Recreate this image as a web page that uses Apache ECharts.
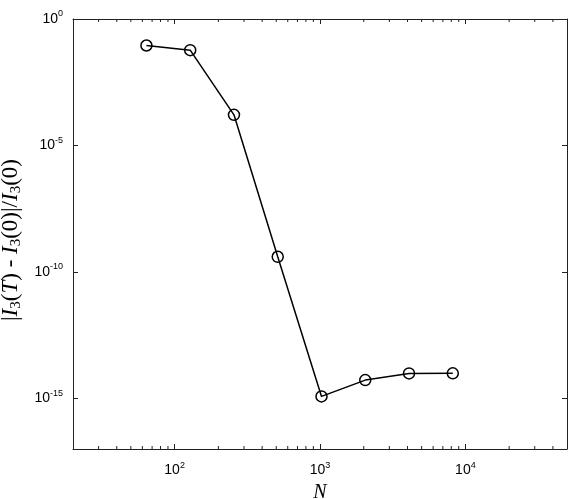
<!DOCTYPE html>
<html>
<head>
<meta charset="utf-8">
<script src="https://cdn.jsdelivr.net/npm/echarts@6/dist/echarts.min.js"></script>
<style>
  html, body { margin: 0; padding: 0; background: #fff; }
  #chart { width: 573px; height: 499px; }
</style>
</head>
<body>
<div id="chart"></div>
<script>
// data
const nValues = [64, 128, 256, 512, 1024, 2048, 4096, 8192];
const errValues = [0.0897, 0.0585, 1.63e-4, 3.98e-10, 1.2e-15, 5.3e-15, 9.7e-15, 9.8e-15];

// axis ranges / ticks
const xMin = 20;
const xMax = 50000;
const yMin = 1e-17;
const yMax = 1;
const xTickExps = [2, 3, 4];
const yTickExps = [0, -5, -10, -15];
const xMinorTicks = [30, 40, 50, 60, 70, 80, 90,
  200, 300, 400, 500, 600, 700, 800, 900,
  2000, 3000, 4000, 5000, 6000, 7000, 8000, 9000,
  20000, 30000, 40000];

const axisColor = '#222';
const labelFont = '"Liberation Sans", Arial, sans-serif';
const serifFont = '"Liberation Serif", "Times New Roman", serif';

const powRich = {
  b: { fontFamily: labelFont, fontSize: 14, color: '#000' },
  s: { fontFamily: labelFont, fontSize: 9, color: '#000', padding: [0, 0, 10, 0] }
};

function powLabel(exps) {
  return function (v) {
    const e = Math.round(Math.log10(v));
    if (exps.indexOf(e) < 0) return '';
    return '{b|10}{s|' + e + '}';
  };
}

function xAxisDef(pos, showLabel) {
  return {
    type: 'log',
    logBase: 10,
    position: pos,
    min: xMin,
    max: xMax,
    splitLine: { show: false },
    axisLine: { show: true, onZero: false, lineStyle: { color: axisColor, width: 1 } },
    axisTick: { show: true, inside: true, length: 5, lineStyle: { color: axisColor } },
    axisLabel: {
      show: showLabel,
      showMinLabel: false,
      showMaxLabel: false,
      margin: 12,
      formatter: powLabel(xTickExps),
      rich: powRich
    },
    name: showLabel ? 'N' : '',
    nameLocation: 'middle',
    nameGap: 21,
    nameTextStyle: { fontFamily: serifFont, fontStyle: 'italic', fontSize: 20, color: '#000' }
  };
}

function yAxisDef(pos, showLabel) {
  return {
    type: 'log',
    // base 10^5 so ticks land every five decades
    logBase: 100000,
    position: pos,
    min: yMin,
    max: yMax,
    splitLine: { show: false },
    axisLine: { show: true, onZero: false, lineStyle: { color: axisColor, width: 1 } },
    axisTick: { show: true, inside: true, length: 5, lineStyle: { color: axisColor } },
    axisLabel: {
      show: showLabel,
      showMinLabel: false,
      margin: 10,
      formatter: powLabel(yTickExps),
      rich: powRich
    },
    name: showLabel ? '|{i|I}{sub|3}({i|T}) - {i|I}{sub|3}(0)|/{i|I}{sub|3}(0)' : '',
    nameLocation: 'middle',
    nameRotate: 90,
    nameGap: 45,
    nameTextStyle: {
      fontFamily: serifFont,
      fontSize: 23,
      color: '#000',
      // nudge the rotated title a little down the axis
      padding: [0, 12, 0, 0],
      rich: {
        i: { fontFamily: serifFont, fontStyle: 'italic', fontSize: 23, color: '#000' },
        sub: { fontFamily: serifFont, fontSize: 15, color: '#000', padding: [10, 0, 0, 0] }
      }
    }
  };
}

const chart = echarts.init(document.getElementById('chart'));

chart.setOption({
  animation: false,
  backgroundColor: '#fff',
  grid: { left: 73, right: 6, top: 19, bottom: 50, containLabel: false, outerBoundsMode: 'none' },
  xAxis: [xAxisDef('bottom', true), xAxisDef('top', false)],
  yAxis: [yAxisDef('left', true), yAxisDef('right', false)],
  series: [
    {
      type: 'line',
      xAxisIndex: 0,
      yAxisIndex: 0,
      data: nValues.map((n, i) => [n, errValues[i]]),
      symbol: 'circle',
      symbolSize: 11,
      lineStyle: { color: '#000', width: 1.5 },
      itemStyle: { color: 'rgba(0,0,0,0)', borderColor: '#000', borderWidth: 1.5 },
      emphasis: { disabled: true },
      z: 3
    },
    {
      // minor log ticks on bottom and top edges
      type: 'custom',
      xAxisIndex: 0,
      yAxisIndex: 0,
      silent: true,
      clip: false,
      data: xMinorTicks.map((v) => [v, yMax]),
      renderItem: function (params, api) {
        const v = api.value(0);
        const pb = api.coord([v, yMin]);
        const pt = api.coord([v, yMax]);
        const st = { stroke: axisColor, lineWidth: 1 };
        return {
          type: 'group',
          children: [
            { type: 'line', shape: { x1: pb[0], y1: pb[1], x2: pb[0], y2: pb[1] - 3 }, style: st },
            { type: 'line', shape: { x1: pt[0], y1: pt[1], x2: pt[0], y2: pt[1] + 3 }, style: st }
          ]
        };
      },
      z: 2
    }
  ]
});
</script>
</body>
</html>
